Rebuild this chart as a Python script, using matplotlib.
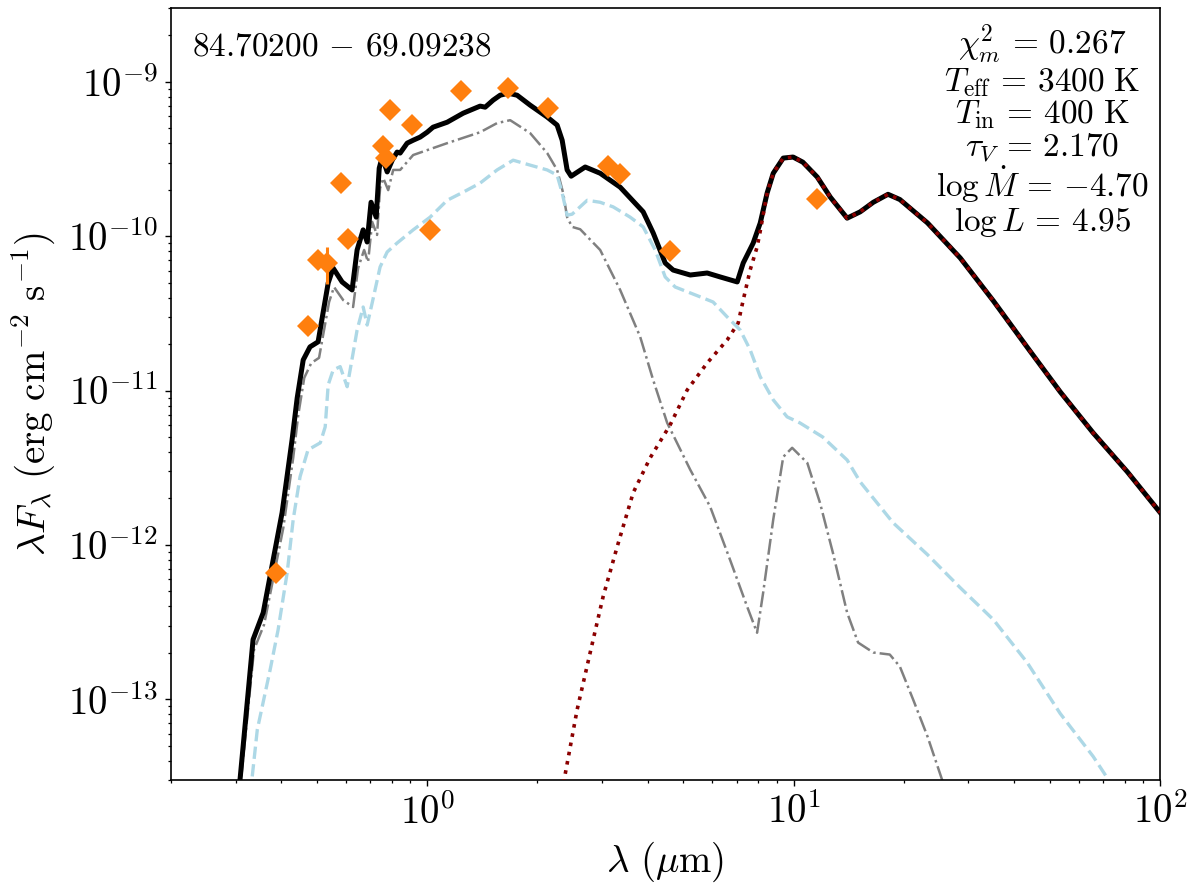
import numpy as np
import matplotlib
matplotlib.use("Agg")
import matplotlib.pyplot as plt
from matplotlib.ticker import FuncFormatter, FixedLocator, LogLocator

plt.rcParams['mathtext.fontset'] = 'cm'
plt.rcParams['font.family'] = 'serif'
plt.rcParams['font.serif'] = ['cmr10', 'DejaVu Serif']
plt.rcParams['axes.unicode_minus'] = False

# ---- total model (black) ----
tot_wl = [0.299, 0.309, 0.335, 0.357, 0.380, 0.402, 0.428, 0.442, 0.459, 0.479, 0.504,
          0.537, 0.554, 0.586, 0.624, 0.644, 0.669, 0.686, 0.703, 0.726, 0.740, 0.754,
          0.778, 0.803, 0.828, 0.844, 0.882, 0.916, 0.957, 1.0, 1.038, 1.134, 1.254,
          1.395, 1.44, 1.514, 1.582, 1.664, 1.76, 1.91, 2.126, 2.263, 2.336, 2.41, 2.472,
          2.70, 2.966, 3.363, 3.886, 4.139, 4.463, 4.692, 5.224, 5.81, 6.305, 7.018,
          7.287, 7.759, 8.11, 8.47, 8.80, 9.37, 9.97, 10.6, 11.6, 12.6, 14.0, 15.2, 16.5,
          18.1, 19.5, 23.2, 28.5, 35.1, 43.4, 53.4, 65.7, 81.4, 100.1]
tot_fl = [1.44e-14, 3.12e-14, 2.44e-13, 3.64e-13, 8.0e-13, 1.62e-12, 4.8e-12, 8.97e-12,
          1.58e-11, 1.92e-11, 2.07e-11, 4.98e-11, 6.22e-11, 5.06e-11, 4.49e-11, 8.15e-11,
          1.10e-10, 9.18e-11, 1.66e-10, 1.33e-10, 2.76e-10, 3.26e-10, 2.61e-10, 3.11e-10,
          3.51e-10, 3.46e-10, 4.01e-10, 4.19e-10, 4.39e-10, 4.72e-10, 5.09e-10, 5.48e-10,
          6.27e-10, 6.97e-10, 6.86e-10, 7.62e-10, 8.2e-10, 8.45e-10, 8.2e-10, 7.07e-10,
          5.92e-10, 5.25e-10, 4.19e-10, 2.69e-10, 2.45e-10, 2.81e-10, 2.56e-10, 2.08e-10,
          1.44e-10, 1.05e-10, 6.71e-11, 6.04e-11, 5.61e-11, 5.78e-11, 5.45e-11, 5.06e-11,
          6.71e-11, 9.04e-11, 1.22e-10, 1.91e-10, 2.56e-10, 3.21e-10, 3.26e-10, 3.02e-10,
          2.42e-10, 1.79e-10, 1.31e-10, 1.44e-10, 1.66e-10, 1.87e-10, 1.73e-10, 1.22e-10,
          7.23e-11, 3.81e-11, 1.91e-11, 9.82e-12, 5.32e-12, 2.98e-12, 1.62e-12]

# ---- attenuated star (grey dash-dot) ----
star_wl = [0.301, 0.311, 0.337, 0.359, 0.382, 0.405, 0.431, 0.445, 0.462, 0.483, 0.507,
           0.540, 0.557, 0.590, 0.628, 0.648, 0.673, 0.690, 0.708, 0.730, 0.744, 0.759,
           0.783, 0.808, 0.844, 0.916, 1.134, 1.395, 1.552, 1.685, 1.91, 2.126, 2.263,
           2.35, 2.41, 2.487, 2.616, 2.966, 3.363, 3.814, 4.139, 4.519, 5.224, 5.92, 6.71,
           7.47, 7.95, 8.26, 8.80, 9.37, 9.91, 10.9, 11.8, 12.8, 14.0, 15.0, 16.5, 18.3,
           19.5, 21.2, 23.2, 25.4, 27.6]
star_fl = [1.44e-14, 3.12e-14, 2.10e-13, 3.05e-13, 6.41e-13, 1.29e-12, 3.67e-12, 6.97e-12,
           1.21e-11, 1.51e-11, 1.63e-11, 3.75e-11, 4.69e-11, 3.86e-11, 3.48e-11, 6.22e-11,
           8.15e-11, 6.81e-11, 1.24e-10, 1.02e-10, 2.05e-10, 2.38e-10, 1.99e-10, 2.69e-10,
           2.69e-10, 3.36e-10, 4.01e-10, 4.72e-10, 5.41e-10, 5.65e-10, 4.66e-10, 3.46e-10,
           2.69e-10, 1.91e-10, 1.33e-10, 1.15e-10, 1.11e-10, 8.15e-11, 4.49e-11, 2.23e-11,
           1.17e-11, 6.18e-12, 3.07e-12, 1.77e-12, 8.0e-13, 3.98e-13, 2.70e-13, 4.91e-13,
           1.46e-12, 3.72e-12, 4.26e-12, 3.40e-12, 1.88e-12, 8.91e-13, 3.64e-13, 2.33e-13,
           2.01e-13, 1.95e-13, 1.63e-13, 9.95e-14, 5.74e-14, 3.03e-14, 1.44e-14]

# ---- scattered light (light blue dashed) ----
scat_wl = [0.323, 0.333, 0.344, 0.373, 0.392, 0.415, 0.431, 0.450, 0.473, 0.511, 0.527,
           0.537, 0.554, 0.579, 0.605, 0.628, 0.644, 0.669, 0.686, 0.708, 0.744, 0.778,
           0.828, 0.916, 1.019, 1.134, 1.254, 1.395, 1.552, 1.717, 1.91, 2.126, 2.263,
           2.336, 2.41, 2.487, 2.734, 2.966, 3.218, 3.58, 3.886, 4.191, 4.463, 4.752, 5.56,
           6.03, 6.59, 7.15, 7.61, 8.11, 8.80, 9.60, 10.4, 12.0, 14.0, 15.2, 18.7, 23.2,
           28.5, 35.1, 43.4, 53.4, 65.7, 72.2, 80.4]
scat_fl = [1.44e-14, 3.12e-14, 6.37e-14, 1.56e-13, 2.82e-13, 6.61e-13, 1.46e-12, 2.77e-12,
           4.13e-12, 4.59e-12, 5.82e-12, 1.09e-11, 1.36e-11, 1.43e-11, 1.06e-11, 1.75e-11,
           2.47e-11, 3.48e-11, 2.66e-11, 3.70e-11, 6.32e-11, 7.91e-11, 9.04e-11, 1.10e-10,
           1.33e-10, 1.71e-10, 1.93e-10, 2.21e-10, 2.69e-10, 3.11e-10, 2.89e-10, 2.69e-10,
           2.49e-10, 1.91e-10, 1.37e-10, 1.39e-10, 1.71e-10, 1.66e-10, 1.55e-10, 1.33e-10,
           1.15e-10, 8.15e-11, 5.45e-11, 4.69e-11, 4.05e-11, 3.75e-11, 3.0e-11, 2.47e-11,
           1.84e-11, 1.23e-11, 8.71e-12, 6.76e-12, 6.18e-12, 5.01e-12, 3.55e-12, 2.56e-12,
           1.39e-12, 8.65e-13, 5.28e-13, 3.28e-13, 1.73e-13, 8.09e-14, 4.26e-14, 3.03e-14,
           1.44e-14]

# ---- dust emission (dark red dotted) ----
dust_wl = [2.235, 2.38, 2.567, 2.786, 3.021, 3.301, 3.650, 4.061, 4.605, 5.125, 5.81,
           6.59, 7.06, 7.287, 7.61, 7.95, 8.11, 8.47, 8.80, 9.37, 9.97, 10.6, 11.6, 12.6,
           14.0, 15.2, 16.5, 18.1, 19.5, 23.2, 28.5, 35.1, 43.4, 53.4, 65.7, 81.4, 100.1]
dust_fl = [1.44e-14, 3.26e-14, 8.59e-14, 2.01e-13, 4.62e-13, 9.75e-13, 2.18e-12, 3.67e-12,
           6.0e-12, 1.01e-11, 1.51e-11, 2.13e-11, 2.74e-11, 3.86e-11, 6.04e-11, 8.51e-11,
           1.08e-10, 1.91e-10, 2.56e-10, 3.21e-10, 3.26e-10, 3.02e-10, 2.42e-10, 1.79e-10,
           1.31e-10, 1.44e-10, 1.66e-10, 1.87e-10, 1.73e-10, 1.22e-10, 7.23e-11, 3.81e-11,
           1.91e-11, 9.82e-12, 5.32e-12, 2.98e-12, 1.62e-12]

# ---- photometry (orange diamonds) ----
obs_wl = [0.387, 0.473, 0.504, 0.533, 0.582, 0.609, 0.759, 0.773, 0.793, 0.910, 1.02,
          1.24, 1.66, 2.14, 3.12, 3.36, 4.6, 11.6]
obs_fl = [6.6e-13, 2.62e-11, 7.01e-11, 6.7e-11, 2.21e-10, 9.6e-11, 3.84e-10, 3.21e-10,
          6.56e-10, 5.25e-10, 1.10e-10, 8.71e-10, 9.1e-10, 6.76e-10, 2.85e-10, 2.53e-10,
          8.0e-11, 1.74e-10]
obs_err = [0, 0, 0, 1.8e-11, 0, 0, 0, 0, 0, 0, 0, 0, 0, 0, 0, 0, 0, 0]

xticks_major = [1, 10, 100]
yticks_major = [1e-13, 1e-12, 1e-11, 1e-10, 1e-9]

label_tl = r'$84.70200 \,-\, 69.09238$'
params = [r'$\chi^2_m \,=\, 0.267$',
          r'$T_{\rm eff} \,=\, 3400\ {\rm K}$',
          r'$T_{\rm in} \,=\, 400\ {\rm K}$',
          r'$\tau_V \,=\, 2.170$',
          r'$\log \dot{M} \,=\, {-4.70}$',
          r'$\log L \,=\, 4.95$']

fig = plt.figure(figsize=(12, 8.89), dpi=100)
ax = fig.add_axes([0.1425, 0.1226, 0.8242, 0.8681])

ax.plot(star_wl, star_fl, color='gray', lw=1.8, ls='-.', zorder=2)
ax.plot(scat_wl, scat_fl, color='lightblue', lw=2.4, ls='--', zorder=2)
ax.plot(tot_wl, tot_fl, color='black', lw=3.6, zorder=3)
ax.plot(dust_wl, dust_fl, color='darkred', lw=2.6, ls=(0, (1, 1.6)), zorder=4)

ax.errorbar(obs_wl, obs_fl, yerr=obs_err, fmt='none', ecolor='#ff7f0e', elinewidth=2.2,
            capsize=0, zorder=5)
ax.plot(obs_wl, obs_fl, ls='none', marker='D', ms=11.5, mew=0, color='#ff7f0e', zorder=6)

ax.set_xscale('log')
ax.set_yscale('log')
ax.set_xlim(0.2, 100)
ax.set_ylim(3e-14, 3e-9)

fmt = FuncFormatter(lambda v, p: r'$10^{%d}$' % int(round(np.log10(v))))
ax.xaxis.set_major_locator(FixedLocator(xticks_major))
ax.yaxis.set_major_locator(FixedLocator(yticks_major))
ax.xaxis.set_major_formatter(fmt)
ax.yaxis.set_major_formatter(fmt)
ax.xaxis.set_minor_locator(LogLocator(base=10, subs=np.arange(2, 10), numticks=20))
ax.yaxis.set_minor_locator(LogLocator(base=10, subs=np.arange(2, 10), numticks=20))

for s in ax.spines.values():
    s.set_linewidth(1.2)
ax.tick_params(which='major', length=4.5, width=1.0, labelsize=28, pad=5)
ax.tick_params(which='minor', length=2.5, width=0.9, labelleft=False, labelbottom=False)

ax.set_xlabel(r'$\lambda\ (\mu{\rm m})$', fontsize=28, labelpad=6)
ax.set_ylabel(r'$\lambda F_\lambda\ ({\rm erg\ cm^{-2}\ s^{-1}})$', fontsize=28, labelpad=8)

ax.text(0.021, 0.968, label_tl, transform=ax.transAxes, fontsize=24, ha='left', va='top')
ax.text(0.9885, 0.982, '\n'.join(params), transform=ax.transAxes, fontsize=24,
        ha='right', va='top', multialignment='center', linespacing=1.0)

fig.savefig('out.png', dpi=100)
